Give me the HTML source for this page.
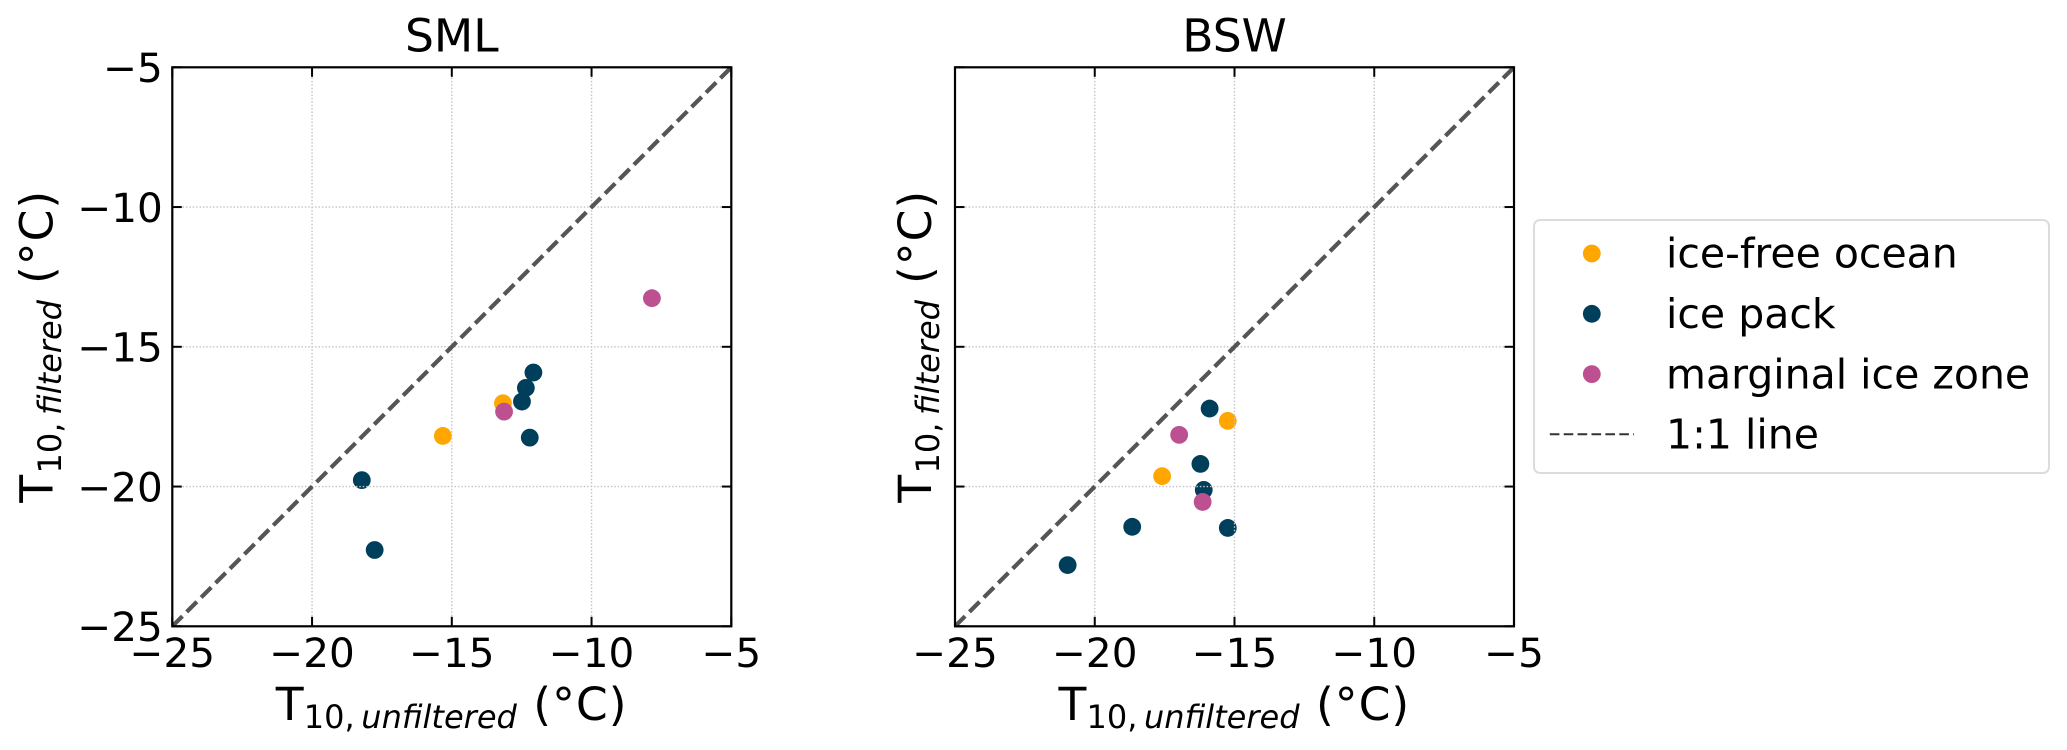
<!DOCTYPE html>
<html>
<head>
<meta charset="utf-8">
<title>SML and BSW scatter</title>
<style>
html,body{margin:0;padding:0;background:#fff;width:2067px;height:750px;overflow:hidden}
svg{display:block;font-family:"DejaVu Sans","Liberation Sans",sans-serif}
</style>
</head>
<body>
<svg id="chart" width="2067" height="750" viewBox="0 0 2067 750" xmlns="http://www.w3.org/2000/svg"></svg>
<script>
const tickValues = [-25, -20, -15, -10, -5];
const tickLabels = ['\u221225', '\u221220', '\u221215', '\u221210', '\u22125'];
const axisDomain = [-25, -5];
const seriesNames = ['ice-free ocean', 'ice pack', 'marginal ice zone'];
const lineLabel = '1:1 line';
const seriesColors = ['#FFA600', '#003F5C', '#BC5090'];
const panelTitles = ['SML', 'BSW'];

const smlIceFreeX = [-15.32, -13.17];
const smlIceFreeY = [-18.19, -17.02];
const smlIcePackX = [-18.22, -17.76, -12.08, -12.35, -12.49, -12.21];
const smlIcePackY = [-19.77, -22.27, -15.92, -16.47, -16.96, -18.25];
const smlMizX = [-7.84, -13.13];
const smlMizY = [-13.26, -17.32];

const bswIceFreeX = [-15.24, -17.59];
const bswIceFreeY = [-17.65, -19.63];
const bswIcePackX = [-15.89, -16.22, -16.10, -18.66, -15.24, -20.97];
const bswIcePackY = [-17.21, -19.19, -20.12, -21.44, -21.48, -22.81];
const bswMizX = [-16.98, -16.14];
const bswMizY = [-18.15, -20.55];

const NS = 'http://www.w3.org/2000/svg';
const svg = document.getElementById('chart');
const plotSize = 559;
const plotTop = 67.3;

function mk(parent, tag, attrs, text) {
  const el = document.createElementNS(NS, tag);
  for (const k in attrs) el.setAttribute(k, attrs[k]);
  if (text !== undefined) el.textContent = text;
  parent.appendChild(el);
  return el;
}
function scaleX(left, v) {
  return left + (v - axisDomain[0]) / (axisDomain[1] - axisDomain[0]) * plotSize;
}
function scaleY(v) {
  return plotTop + plotSize - (v - axisDomain[0]) / (axisDomain[1] - axisDomain[0]) * plotSize;
}

function drawPanel(index, left, seriesX, seriesY, showYLabels, yTitleBase) {
  const key = panelTitles[index].toLowerCase();
  const right = left + plotSize, bottom = plotTop + plotSize;
  const g = mk(svg, 'g', {});
  
  

  const title = mk(g, 'text', {x: left + plotSize / 2, y: 51.7, 'text-anchor': 'middle', 'font-size': 45.6, fill: '#000'}, panelTitles[index]);
  
  

  const clipId = 'clip-' + key;
  const defs = mk(g, 'defs', {});
  const clip = mk(defs, 'clipPath', {id: clipId});
  mk(clip, 'rect', {x: left, y: plotTop, width: plotSize, height: plotSize});

  seriesX.forEach(function (xs, s) {
    xs.forEach(function (xv, i) {
      const c = mk(g, 'circle', {cx: scaleX(left, xv), cy: scaleY(seriesY[s][i]), r: 8.9, fill: seriesColors[s]});
      
      
    });
  });

  tickValues.forEach(function (v) {
    if (v !== axisDomain[0] && v !== axisDomain[1]) {
      const gv = mk(g, 'line', {x1: scaleX(left, v), x2: scaleX(left, v), y1: plotTop, y2: bottom, stroke: '#c4c4c4', 'stroke-width': 1.4, 'stroke-dasharray': '1.5 1.9'});
      
      
      const gh = mk(g, 'line', {x1: left, x2: right, y1: scaleY(v), y2: scaleY(v), stroke: '#c4c4c4', 'stroke-width': 1.4, 'stroke-dasharray': '1.5 1.9'});
      
      
    }
  });

  const ref = mk(g, 'line', {x1: scaleX(left, axisDomain[0]), y1: scaleY(axisDomain[0]), x2: scaleX(left, axisDomain[1]), y2: scaleY(axisDomain[1]), stroke: '#555', 'stroke-width': 4.2, 'stroke-dasharray': '14.3 6.1', 'clip-path': 'url(#' + clipId + ')'});
  
  

  tickValues.forEach(function (v, i) {
    const px = scaleX(left, v), py = scaleY(v);
    [[px, bottom, px, bottom - 9.5], [px, plotTop, px, plotTop + 9.5], [left, py, left + 9.5, py], [right, py, right - 9.5, py]].forEach(function (t) {
      const tk = mk(g, 'line', {x1: t[0], y1: t[1], x2: t[2], y2: t[3], stroke: '#000', 'stroke-width': 2});
      
      
    });
    const xl = mk(g, 'text', {x: px, y: 666.8, 'text-anchor': 'middle', 'font-size': 40.5, fill: '#000'}, tickLabels[i]);
    
    
    if (showYLabels) {
      const yl = mk(g, 'text', {x: left - 9.5, y: py + 14.8, 'text-anchor': 'end', 'font-size': 40.5, fill: '#000'}, tickLabels[i]);
      
      
    }
  });

  const frame = mk(g, 'rect', {x: left, y: plotTop, width: plotSize, height: plotSize, fill: 'none', stroke: '#000', 'stroke-width': 2.2});
  
  

  const xt = mk(g, 'g', {transform: 'translate(' + left + ',720)'});
  
  
  mk(xt, 'text', {x: 103.5, y: 0, 'font-size': 45.6}, 'T');
  mk(xt, 'text', {x: 131.5, y: 8.2, 'font-size': 32}, '10,');
  mk(xt, 'text', {x: 189, y: 8.2, 'font-size': 32, 'font-style': 'italic'}, 'unfiltered');
  mk(xt, 'text', {x: 361, y: 0, 'font-size': 45.6, 'letter-spacing': 1}, '(\u00b0C)');

  const yt = mk(g, 'g', {transform: 'translate(' + yTitleBase + ',0) rotate(-90)'});
  
  
  mk(yt, 'text', {x: -502.7, y: 0, 'font-size': 45.6}, 'T');
  mk(yt, 'text', {x: -473.5, y: 8.2, 'font-size': 32}, '10,');
  mk(yt, 'text', {x: -415, y: 8.2, 'font-size': 32, 'font-style': 'italic'}, 'filtered');
  mk(yt, 'text', {x: -284, y: 0, 'font-size': 45.6, 'letter-spacing': 1}, '(\u00b0C)');
}

drawPanel(0, 172.3, [smlIceFreeX, smlIcePackX, smlMizX], [smlIceFreeY, smlIcePackY, smlMizY], true, 52.7);
drawPanel(1, 955, [bswIceFreeX, bswIcePackX, bswMizX], [bswIceFreeY, bswIcePackY, bswMizY], false, 931);

const legend = mk(svg, 'g', {});


const legendBox = mk(legend, 'rect', {x: 1534, y: 220, width: 515, height: 253, rx: 6, ry: 6, fill: '#fff', stroke: '#dcdcdc', 'stroke-width': 2});


seriesNames.forEach(function (name, i) {
  const cy = 253.5 + i * 60.3;
  const entry = mk(legend, 'g', {});
  
  
  const m = mk(entry, 'circle', {cx: 1591.8, cy: cy, r: 8.9, fill: seriesColors[i]});
  
  
  const t = mk(entry, 'text', {x: 1666, y: cy + 14.2, 'font-size': 41, fill: '#000'}, name);
  
  
});
const lineEntry = mk(legend, 'g', {});


const sw = mk(lineEntry, 'line', {x1: 1549.8, x2: 1634, y1: 434.3, y2: 434.3, stroke: '#333', 'stroke-width': 2, 'stroke-dasharray': '9.6 4.3'});


const lt = mk(lineEntry, 'text', {x: 1666, y: 448.5, 'font-size': 41, fill: '#000'}, lineLabel);


</script>
</body>
</html>
